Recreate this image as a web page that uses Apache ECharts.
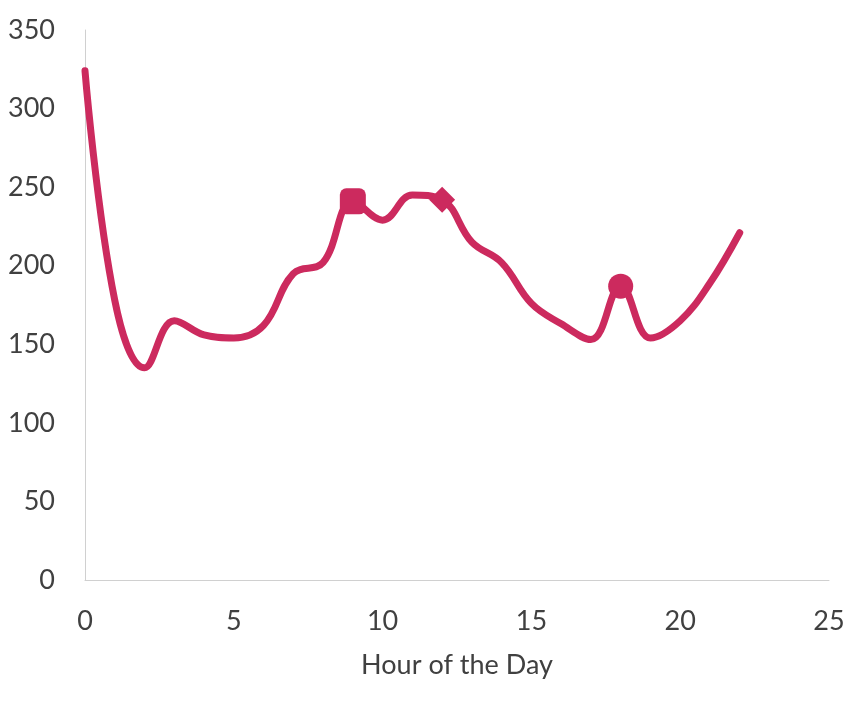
<!DOCTYPE html>
<html>
<head>
<meta charset="utf-8">
<script src="https://cdn.jsdelivr.net/npm/echarts@6/dist/echarts.min.js"></script>
<style>
  html, body { margin: 0; padding: 0; background: #fff; }
  #chart { width: 864px; height: 705px; }
</style>
</head>
<body>
<div id="chart"></div>
<script>
// hour of the day and the counts
var hours = [0, 1, 2, 3, 4, 5, 6, 7, 8, 9, 10, 11, 12, 13, 14, 15, 16, 17, 18, 19, 20, 21, 22];
var counts = [324, 178, 135, 165, 156, 154, 162, 195, 202, 241, 229, 245, 242, 215, 202, 176, 163, 153, 187, 154, 165, 189, 221];
// hours that carry a marker, with the marker shape
var markedHours = [9, 12, 18];
var markerShapes = ['roundRect', 'diamond', 'circle'];
var markerSizes = [26, 26, 25];

var lineColor = '#CC2A5E';
var textColor = '#404040';
var font = 'Lato';

var seriesData = hours.map(function (h, i) {
    var k = markedHours.indexOf(h);
    if (k >= 0) {
        return { value: [h, counts[i]], symbol: markerShapes[k], symbolSize: markerSizes[k] };
    }
    return { value: [h, counts[i]], symbol: 'none' };
});

var myChart = echarts.init(document.getElementById('chart'));
var option = {
    animation: false,
    grid: { left: 85, right: 35, top: 30, bottom: 125 },
    xAxis: {
        type: 'value',
        min: 0,
        max: 25,
        interval: 5,
        name: 'Hour of the Day',
        nameLocation: 'middle',
        nameGap: 72,
        nameTextStyle: { color: textColor, fontSize: 27, fontFamily: font },
        axisLine: { show: true, lineStyle: { color: '#d0d0d0', width: 1 } },
        axisTick: { show: false },
        splitLine: { show: false },
        axisLabel: { color: textColor, fontSize: 27, fontFamily: font, margin: 28 }
    },
    yAxis: {
        type: 'value',
        min: 0,
        max: 350,
        interval: 50,
        axisLine: { show: true, lineStyle: { color: '#d0d0d0', width: 1 } },
        axisTick: { show: false },
        splitLine: { show: false },
        axisLabel: { color: textColor, fontSize: 27, fontFamily: font, margin: 30 }
    },
    series: [{
        type: 'line',
        data: seriesData,
        smooth: 0.4,
        showSymbol: true,
        symbol: 'none',
        lineStyle: { color: lineColor, width: 7, cap: 'round', join: 'round' },
        itemStyle: { color: lineColor }
    }]
};
myChart.setOption(option);
</script>
</body>
</html>
